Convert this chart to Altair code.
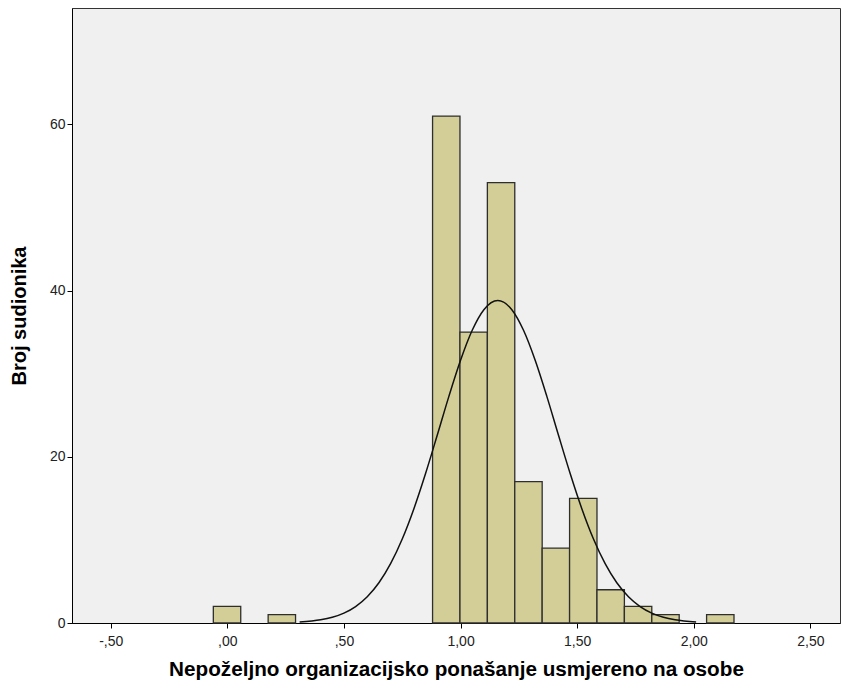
import altair as alt
import pandas as pd

# Histogram bins (left/right edges) and counts
bin_left = [-0.06, 0.175, 0.88, 0.9975, 1.115, 1.2325, 1.35, 1.4675, 1.585, 1.7025, 1.82, 2.055]
bin_right = [0.0575, 0.2925, 0.9975, 1.115, 1.2325, 1.35, 1.4675, 1.585, 1.7025, 1.82, 1.9375, 2.1725]
counts = [2, 1, 61, 35, 53, 17, 9, 15, 4, 2, 1, 1]

# Normal curve points
curve_x = [0.31, 0.40, 0.45, 0.50, 0.55, 0.60, 0.65, 0.70, 0.75, 0.80, 0.85, 0.90, 0.95,
           1.00, 1.05, 1.10, 1.16, 1.22, 1.27, 1.32, 1.37, 1.42, 1.47, 1.52, 1.57, 1.62,
           1.67, 1.72, 1.77, 1.82, 1.87, 1.92, 2.01]
curve_y = [0.12, 0.38, 0.69, 1.19, 1.98, 3.16, 4.84, 7.14, 10.11, 13.76, 17.99, 22.59, 27.27,
           31.61, 35.22, 37.70, 38.8, 37.70, 35.22, 31.61, 27.27, 22.59, 17.99, 13.76, 10.11, 7.14,
           4.84, 3.16, 1.98, 1.19, 0.69, 0.38, 0.12]

x_ticks = [-0.5, 0.0, 0.5, 1.0, 1.5, 2.0, 2.5]
y_ticks = [0, 20, 40, 60]

x_title = "Nepoželjno organizacijsko ponašanje usmjereno na osobe"
y_title = "Broj sudionika"

bars_df = pd.DataFrame({"x0": bin_left, "x1": bin_right, "y": counts})
curve_df = pd.DataFrame({"x0": curve_x, "y": curve_y})

FONT = "Liberation Sans"
x_scale = alt.Scale(domain=[-0.666, 2.627], nice=False, zero=False)
y_scale = alt.Scale(domain=[0, 74], nice=False)

label_expr = ("abs(datum.value) < 1 ? (datum.value < 0 ? '-' : '') + ',' + "
              "substring(format(abs(datum.value), '.2f'), 2) : "
              "replace(format(datum.value, '.2f'), '.', ',')")

x_axis = alt.Axis(values=x_ticks, labelExpr=label_expr, grid=False,
                  tickSize=5, labelPadding=6, titlePadding=11,
                  labelFontSize=14, titleFontSize=20.7, labelFont=FONT, titleFont=FONT,
                  titleFontWeight="bold", labelColor="#222222", titleColor="#000000",
                  domainColor="#000000", tickColor="#000000", labelFlush=False)
y_axis = alt.Axis(values=y_ticks, grid=False, tickSize=5, labelPadding=2,
                  titlePadding=20, labelFontSize=14, titleFontSize=20, labelFont=FONT,
                  titleFont=FONT, titleFontWeight="bold", labelColor="#222222",
                  titleColor="#000000", domainColor="#000000", tickColor="#000000")

bars = alt.Chart(bars_df).mark_rect(fill="#d3ce97", stroke="#2e2e2e", strokeWidth=1.3).encode(
    x=alt.X("x0:Q", scale=x_scale, axis=x_axis, title=x_title),
    x2="x1:Q",
    y=alt.Y("y:Q", scale=y_scale, axis=y_axis, title=y_title),
    y2=alt.datum(0),
)

curve = alt.Chart(curve_df).mark_line(color="#111111", strokeWidth=1.5,
                                       interpolate="monotone", clip=True).encode(
    x=alt.X("x0:Q", scale=x_scale, axis=x_axis, title=x_title),
    y=alt.Y("y:Q", scale=y_scale, axis=y_axis, title=y_title),
)

chart = alt.layer(bars, curve).properties(
    width=768, height=615,
    autosize=alt.AutoSizeParams(type="none"),
    padding={"left": 72, "top": 8, "right": 1, "bottom": 65},
    background="#ffffff",
).configure_view(fill="#f0f0f0", stroke="#333333", strokeWidth=1)

chart.save("out.html", embed_options={"renderer": "svg", "actions": False})
